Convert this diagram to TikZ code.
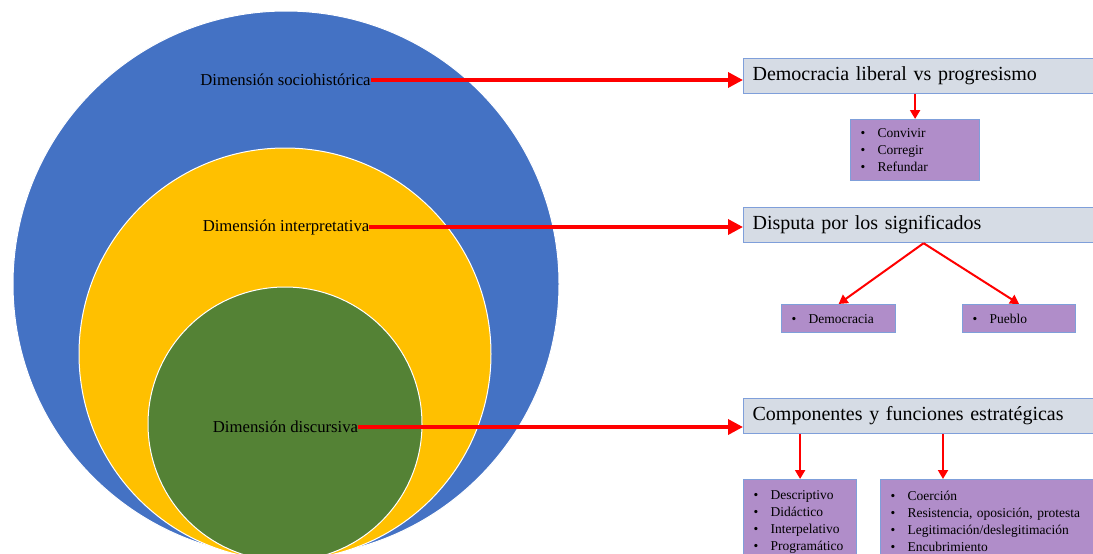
\documentclass[tikz,border=0pt]{standalone}
\usepackage{fontspec}
\setmainfont{Liberation Serif}
\usepackage{xcolor}
\usetikzlibrary{arrows.meta}
\usetikzlibrary{calc}

\definecolor{outerblue}{HTML}{4472C4}
\definecolor{midyellow}{HTML}{FFC000}
\definecolor{innergreen}{HTML}{548235}
\definecolor{headfill}{HTML}{D6DCE5}
\definecolor{listfill}{HTML}{B08DC9}
\definecolor{edgeblue}{HTML}{7F9FDA}
\definecolor{arrowred}{HTML}{FF0000}

\newcommand{\blt}[1]{\makebox[17pt][l]{\textbullet}#1}

\tikzset{
    dimlabel/.style={inner sep=0pt, font=\fontsize{16.7}{19}\selectfont},
    headbox/.style={draw=edgeblue, fill=headfill, line width=1.2pt, anchor=north west,
        minimum height=35pt, inner xsep=9pt, align=left, font=\fontsize{20}{24}\selectfont},
    listbox/.style={draw=edgeblue, fill=listfill, line width=1.2pt, anchor=north west,
        inner xsep=10pt, inner ysep=6pt, align=left, font=\fontsize{13.5}{17}\selectfont},
    bigarrow/.style={draw=arrowred, line width=3.5pt, -{Triangle[length=15pt,width=15pt]}},
    smallarrow/.style={draw=arrowred, line width=2pt, -{Triangle[length=9pt,width=10pt]}}
}

\begin{document}
\begin{tikzpicture}[x=1pt, y=-1pt]
    	\clip (0,0) rectangle (1093,554);
    	\fill[white] (0,0) rectangle (1093,554);

    	% circles
    	\filldraw[fill=outerblue, draw=white, line width=1pt] (286,284) circle (273);
    	\filldraw[fill=midyellow, draw=white, line width=1pt] (285,354) circle (206);
    	\filldraw[fill=innergreen, draw=white, line width=1pt] (285,424) circle (137);

    	\node[dimlabel] (socio) at (285.5,80) {Dimensión sociohistórica};
    	\node[dimlabel] (interp) at (286,227) {Dimensión interpretativa};
    	\node[dimlabel] (discur) at (285.5,427) {Dimensión discursiva};

    	% headers
    	\node[headbox, text width=332pt] (demo) at (743,58) {Democracia  liberal vs progresismo};
    	\node[headbox, text width=332pt] (disp) at (743,207) {Disputa por los significados};
    	\node[headbox, text width=332pt] (comp) at (743,398) {Componentes  y  funciones  estratégicas};

    	% lists
    	\node[listbox, text width=109pt, minimum height=61pt] (conv) at (850,119)
    		{\blt{Convivir}\\ \blt{Corregir}\\ \blt{Refundar}};
    	\node[listbox, text width=94pt, minimum height=28pt, inner ysep=3pt] (demlist) at (781,304)
    		{\blt{Democracia}};
    	\node[listbox, text width=93pt, minimum height=28pt, inner ysep=3pt] (pueb) at (962,304)
    		{\blt{Pueblo}};
    	\node[listbox, text width=93pt, minimum height=84pt, inner ysep=4pt] (funcl) at (743,479)
    		{\blt{Descriptivo}\\ \blt{Didáctico}\\ \blt{Interpelativo}\\ \blt{Programático}};
    	\node[listbox, text width=220pt, minimum height=84pt, inner ysep=4pt] (funcr) at (880,479)
    		{\blt{Coerción}\\ \blt{Resistencia, oposición, protesta}\\ \blt{Legitimación/deslegitimación}\\ \blt{Encubrimiento}};

    	% arrows
    	\draw[bigarrow] (socio.east) -- (socio.east -| demo.west);
    	\draw[bigarrow] (interp.east) -- (interp.east -| disp.west);
    	\draw[bigarrow] (discur.east) -- (discur.east -| comp.west);

    	\draw[smallarrow] (demo.south -| conv.north) -- (conv.north);
    	\draw[smallarrow] ($(disp.south)+(5,0)$) -- (demlist.north);
    	\draw[smallarrow] ($(disp.south)+(5,0)$) -- (pueb.north);
    	\draw[smallarrow] (comp.south -| funcl.north) -- (funcl.north);
    	\coordinate (fr) at ($(funcr.north west)+(63,0)$);
    	\draw[smallarrow] (comp.south -| fr) -- (fr);
    \end{tikzpicture}
\end{document}
